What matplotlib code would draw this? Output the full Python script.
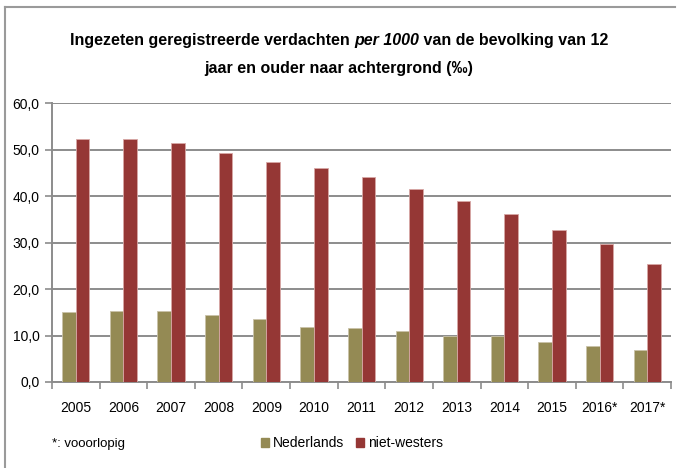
import numpy as np
import matplotlib.pyplot as plt
from matplotlib.patches import Rectangle
from matplotlib.lines import Line2D

plt.rcParams['font.family'] = ['Liberation Sans', 'DejaVu Sans']

years = ["2005", "2006", "2007", "2008", "2009", "2010", "2011",
         "2012", "2013", "2014", "2015", "2016*", "2017*"]
nederlands = [15.1, 15.3, 15.3, 14.4, 13.6, 11.9, 11.6, 11.0, 9.9, 9.8, 8.7, 7.8, 6.9]
niet_westers = [52.3, 52.3, 51.5, 49.2, 47.4, 46.0, 44.2, 41.6, 38.9, 36.2, 32.8, 29.8, 25.3]

olive = "#948a54"
red = "#953735"
grid_col = "#8c8c8c"

fig = plt.figure(figsize=(6.78, 4.68), dpi=100)
ax = fig.add_axes([0.0767, 0.1838, 0.9130, 0.5955])

x = np.arange(len(years))
w = 0.286
ax.bar(x - w / 2, nederlands, w, color=olive, edgecolor="#c9c2a8", linewidth=0.6, zorder=3)
ax.bar(x + w / 2, niet_westers, w, color=red, edgecolor="#d8a8a6", linewidth=0.6, zorder=3)

ax.set_xlim(-0.5, len(years) - 0.5)
ax.set_ylim(0, 60)
ax.set_yticks(np.arange(0, 61, 10))
ax.set_yticklabels([f"{v:.1f}".replace(".", ",") for v in np.arange(0, 61, 10)], fontsize=10)
ax.yaxis.grid(True, color=grid_col, linewidth=1.4, zorder=0)
ax.set_axisbelow(True)

ax.set_xticks(x)
ax.set_xticklabels(years, fontsize=10)
ax.set_xticks(np.arange(-0.5, len(years)), minor=True)
ax.tick_params(axis="x", which="major", length=0, pad=14)
ax.tick_params(axis="x", which="minor", length=5, color=grid_col, width=1.2)
ax.tick_params(axis="y", length=5, color=grid_col, width=1.2, pad=4)

for s in ["top", "right"]:
    ax.spines[s].set_visible(False)
for s in ["left", "bottom"]:
    ax.spines[s].set_color(grid_col)
    ax.spines[s].set_linewidth(1.4)

# title, first line built from bold / bold-italic pieces
title_size = 11.5
renderer = fig.canvas.get_renderer()
pieces = [("Ingezeten geregistreerde verdachten ", "normal"),
          ("per 1000", "italic"),
          (" van de bevolking van 12", "normal")]
texts = [fig.text(0, 1 - 40 / 468, s, fontsize=title_size, fontweight="bold", style=st,
                  ha="left", va="center") for s, st in pieces]
widths = [t.get_window_extent(renderer).width for t in texts]
x0 = (678 - sum(widths)) / 2
for t, wd in zip(texts, widths):
    t.set_x(x0 / 678)
    x0 += wd
fig.text(0.5, 1 - 68 / 468, "jaar en ouder naar achtergrond (‰)",
         ha="center", va="center", fontsize=title_size, fontweight="bold")

fig.text(52 / 678, 1 - 444 / 468, "*: vooorlopig", ha="left", va="center", fontsize=9.5)

handles = [Rectangle((0, 0), 1, 1, color=olive), Rectangle((0, 0), 1, 1, color=red)]
fig.legend(handles, ["Nederlands", "niet-westers"], loc="center",
           bbox_to_anchor=(352 / 678, 1 - 443 / 468), ncol=2, frameon=False,
           fontsize=10, handlelength=0.6, handleheight=0.6, handletextpad=0.3,
           columnspacing=0.8)

# chart frame (top and left edges visible)
fig.add_artist(Line2D([5 / 678, 675 / 678], [1 - 7 / 468, 1 - 7 / 468], color="#9a9a9a", linewidth=1.5))
fig.add_artist(Line2D([5 / 678, 5 / 678], [1 - 7 / 468, 0], color="#9a9a9a", linewidth=1.5))

fig.savefig("out.png", dpi=100)
